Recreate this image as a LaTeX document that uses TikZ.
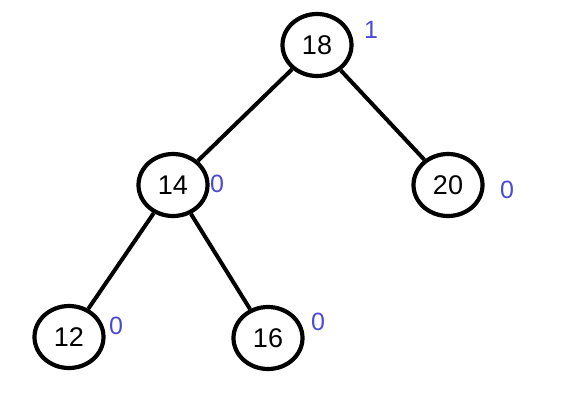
\documentclass[tikz,border=0pt]{standalone}
\usepackage{fontspec}
\setmainfont{Liberation Sans}
\usepackage{xcolor}
\usetikzlibrary{shapes.geometric}
\definecolor{balblue}{HTML}{4A4AD6}
\tikzset{
  tnode/.style={
    draw, ellipse, line width=4.2pt, inner sep=0pt,
    minimum width=69pt, minimum height=62pt, font=\fontsize{27}{27}\selectfont,
  },
  tedge/.style={draw, line width=4pt},
  bal/.style={text=balblue, inner sep=0pt, font=\fontsize{25}{25}\selectfont},
}
\begin{document}
\begin{tikzpicture}[x=1pt, y=-1pt]
\useasboundingbox (0,0) rectangle (564,405);

% ---------------------------------------------------------------- nodes
\node[tnode] (n18) at (317,45)  {18};
\node[tnode] (n14) at (173,185) {14};
\node[tnode] (n20) at (448,185) {20};
\node[tnode] (n12) at (69,337)  {12};
\node[tnode] (n16) at (268,338) {16};

% ---------------------------------------------------------------- edges
\draw[tedge] (n18) -- (n14);
\draw[tedge] (n18) -- (n20);
\draw[tedge] (n14) -- (n12);
\draw[tedge] (n14) -- (n16);

% ---------------------------------------------------------------- balance factors
\node[bal] (b18) at (371,30)  {1};
\node[bal] (b14) at (217,184) {0};
\node[bal] (b20) at (507,190) {0};
\node[bal] (b12) at (116,326) {0};
\node[bal] (b16) at (318,322) {0};

\end{tikzpicture}
\end{document}
